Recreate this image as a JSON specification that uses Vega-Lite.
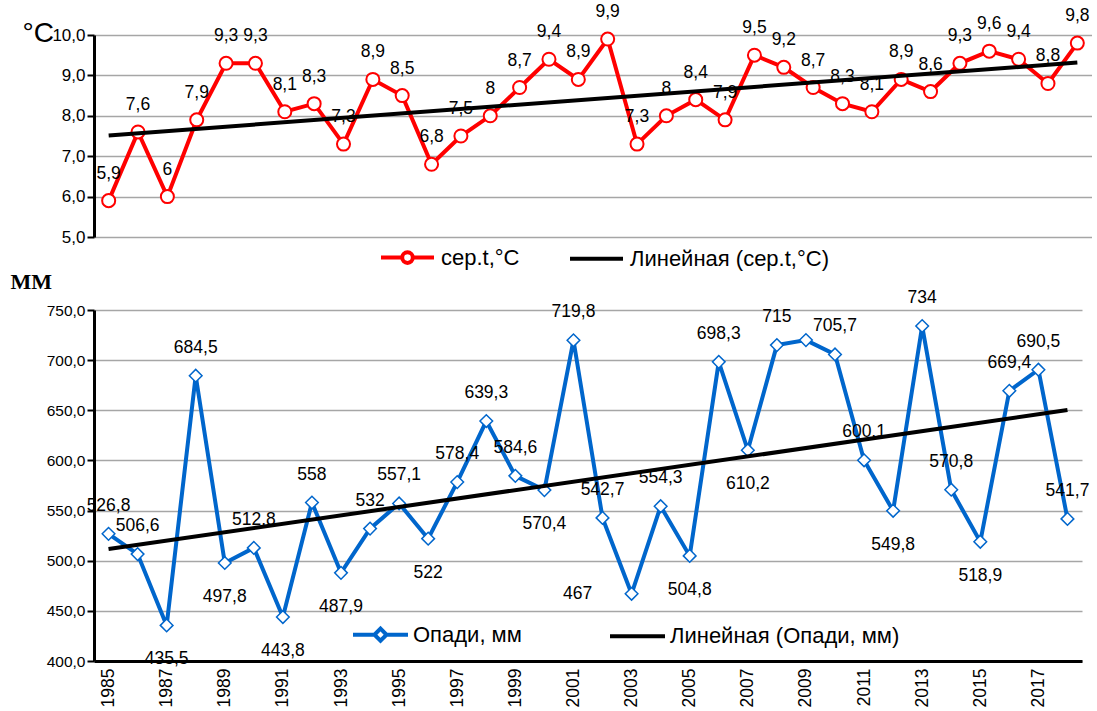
{
  "$schema": "https://vega.github.io/schema/vega-lite/v6.json",
  "padding": {"left": 10, "top": 3, "right": 0, "bottom": 0},
  "bounds": "flush",
  "spacing": 73,
  "background": "white",
  "config": {
    "locale": {"number": {"decimal": ",", "thousands": " ", "grouping": [3], "currency": ["", ""]}},
    "view": {"stroke": null},
    "font": "Liberation Sans"
  },
  "resolve": {"scale": {"color": "independent", "x": "independent", "y": "independent"}, "legend": {"color": "independent"}},
  "datasets": {
    "d": [
      {"year": 1985, "temp": 5.9, "precip": 526.8},
      {"year": 1986, "temp": 7.6, "precip": 506.6},
      {"year": 1987, "temp": 6.0, "precip": 435.5},
      {"year": 1988, "temp": 7.9, "precip": 684.5},
      {"year": 1989, "temp": 9.3, "precip": 497.8},
      {"year": 1990, "temp": 9.3, "precip": 512.8},
      {"year": 1991, "temp": 8.1, "precip": 443.8},
      {"year": 1992, "temp": 8.3, "precip": 558},
      {"year": 1993, "temp": 7.3, "precip": 487.9},
      {"year": 1994, "temp": 8.9, "precip": 532},
      {"year": 1995, "temp": 8.5, "precip": 557.1},
      {"year": 1996, "temp": 6.8, "precip": 522},
      {"year": 1997, "temp": 7.5, "precip": 578.4},
      {"year": 1998, "temp": 8.0, "precip": 639.3},
      {"year": 1999, "temp": 8.7, "precip": 584.6},
      {"year": 2000, "temp": 9.4, "precip": 570.4},
      {"year": 2001, "temp": 8.9, "precip": 719.8},
      {"year": 2002, "temp": 9.9, "precip": 542.7},
      {"year": 2003, "temp": 7.3, "precip": 467},
      {"year": 2004, "temp": 8.0, "precip": 554.3},
      {"year": 2005, "temp": 8.4, "precip": 504.8},
      {"year": 2006, "temp": 7.9, "precip": 698.3},
      {"year": 2007, "temp": 9.5, "precip": 610.2},
      {"year": 2008, "temp": 9.2, "precip": 715},
      {"year": 2009, "temp": 8.7, "precip": 720},
      {"year": 2010, "temp": 8.3, "precip": 705.7},
      {"year": 2011, "temp": 8.1, "precip": 600.1},
      {"year": 2012, "temp": 8.9, "precip": 549.8},
      {"year": 2013, "temp": 8.6, "precip": 734},
      {"year": 2014, "temp": 9.3, "precip": 570.8},
      {"year": 2015, "temp": 9.6, "precip": 518.9},
      {"year": 2016, "temp": 9.4, "precip": 669.4},
      {"year": 2017, "temp": 8.8, "precip": 690.5},
      {"year": 2018, "temp": 9.8, "precip": 541.7}
    ]
  },
  "vconcat": [
    {
      "width": 998,
      "height": 202,
      "data": {"name": "d"},
      "encoding": {
        "x": {"field": "year", "type": "quantitative", "scale": {"domain": [1984.5, 2018.5], "nice": false, "zero": false}, "axis": null},
        "y": {"field": "temp", "type": "quantitative", "scale": {"domain": [5, 10], "nice": false, "zero": false},
          "axis": {"values": [5, 6, 7, 8, 9, 10], "format": ".1f", "title": "°C", "titleAngle": 0, "titleX": -72, "titleY": 6, "titleAlign": "left", "titleBaseline": "alphabetic", "titleFont": "Liberation Sans", "titleFontSize": 28, "titleFontWeight": "normal", "titleColor": "#000",
            "labelFont": "Liberation Sans", "labelFontSize": 17, "labelColor": "#000", "labelPadding": 2,
            "domainColor": "#000", "domainWidth": 3, "tickColor": "#000", "tickWidth": 2, "tickSize": 7,
            "grid": true, "gridColor": "#A6A6A6", "gridWidth": 1.5}}
      },
      "layer": [
        {
          "mark": {"type": "line", "strokeWidth": 4},
          "encoding": {
            "color": {"datum": "сер.t,°С", "type": "nominal",
              "scale": {"domain": ["сер.t,°С", "Линейная (сер.t,°С)"], "range": ["#FF0000", "#000000"]},
              "legend": {"orient": "none", "legendX": 285, "legendY": 194, "direction": "horizontal", "title": null,
                "labelFont": "Liberation Sans", "labelFontSize": 22, "labelColor": "#000", "labelOffset": 5, "columnPadding": 42, "labelLimit": 0,
                "symbolSize": 2809, "symbolStrokeWidth": 4, "symbolType": "stroke",
                "encode": {"symbols": {"update": {"shape": {"signal": "datum.value === 'сер.t,°С' ? 'M-1,0L-0.2,0M0.2,0L1,0M-0.2,0A0.2,0.2 0 1,1 0.2,0A0.2,0.2 0 1,1 -0.2,0' : 'M-1,0L1,0'"}}}}}
            }
          }
        },
        {
          "mark": {"type": "point", "shape": "circle", "size": 170, "filled": true, "fill": "white", "stroke": "#FF0000", "strokeWidth": 2, "opacity": 1}
        },
        {
          "transform": [{"regression": "temp", "on": "year"}],
          "mark": {"type": "line", "strokeWidth": 4},
          "encoding": {"color": {"datum": "Линейная (сер.t,°С)", "type": "nominal"}}
        },
        {
          "mark": {"type": "text", "dy": -27, "font": "Liberation Sans", "fontSize": 17.5, "color": "#000"},
          "encoding": {"text": {"field": "temp", "type": "quantitative", "format": "~f"}}
        }
      ]
    },
    {
      "width": 988,
      "height": 351,
      "data": {"name": "d"},
      "encoding": {
        "x": {"field": "year", "type": "quantitative", "scale": {"domain": [1984.5, 2018.5], "nice": false, "zero": false},
          "axis": {"values": [1985, 1987, 1989, 1991, 1993, 1995, 1997, 1999, 2001, 2003, 2005, 2007, 2009, 2011, 2013, 2015, 2017], "format": "d", "labelAngle": -90, "labelFont": "Liberation Sans", "labelFontSize": 17.5, "labelColor": "#000", "labelPadding": 7,
            "grid": false, "ticks": false, "domainColor": "#000", "domainWidth": 3, "title": null}},
        "y": {"field": "precip", "type": "quantitative", "scale": {"domain": [400, 750], "nice": false, "zero": false},
          "axis": {"values": [400, 450, 500, 550, 600, 650, 700, 750], "format": ".1f", "title": "ММ", "titleAngle": 0, "titleX": -84, "titleY": -22, "titleAlign": "left", "titleBaseline": "alphabetic", "titleFont": "Liberation Serif", "titleFontSize": 22, "titleFontWeight": "bold", "titleColor": "#000",
            "labelFont": "Liberation Sans", "labelFontSize": 15.5, "labelColor": "#000", "labelPadding": 2,
            "domainColor": "#000", "domainWidth": 3, "tickColor": "#000", "tickWidth": 2, "tickSize": 7,
            "grid": true, "gridColor": "#A6A6A6", "gridWidth": 1.5}}
      },
      "layer": [
        {
          "mark": {"type": "line", "strokeWidth": 4},
          "encoding": {
            "color": {"datum": "Опади, мм", "type": "nominal",
              "scale": {"domain": ["Опади, мм", "Линейная (Опади, мм)"], "range": ["#0066CC", "#000000"]},
              "legend": {"orient": "none", "legendX": 257, "legendY": 295, "direction": "horizontal", "title": null,
                "labelFont": "Liberation Sans", "labelFontSize": 22, "labelColor": "#000", "labelOffset": 3, "columnPadding": 80, "labelLimit": 0,
                "symbolSize": 3025, "symbolStrokeWidth": 4, "symbolType": "stroke",
                "encode": {"symbols": {"update": {"shape": {"signal": "datum.value === 'Опади, мм' ? 'M-1,0L-0.22,0M0.22,0L1,0M-0.22,0L0,-0.22L0.22,0L0,0.22Z' : 'M-1,0L1,0'"}}}}}
            }
          }
        },
        {
          "mark": {"type": "point", "shape": "diamond", "size": 160, "filled": true, "fill": "white", "stroke": "#0066CC", "strokeWidth": 1.5, "opacity": 1}
        },
        {
          "transform": [{"regression": "precip", "on": "year"}],
          "mark": {"type": "line", "strokeWidth": 4},
          "encoding": {"color": {"datum": "Линейная (Опади, мм)", "type": "nominal"}}
        },
        {
          "transform": [{"filter": {"not": {"field": "year", "oneOf": [1987, 1989, 1991, 1993, 1996, 2000, 2003, 2005, 2007, 2009, 2012, 2015]}}}],
          "mark": {"type": "text", "dy": -28, "font": "Liberation Sans", "fontSize": 17.5, "color": "#000"},
          "encoding": {"text": {"field": "precip", "type": "quantitative", "format": "~f"}}
        },
        {
          "transform": [{"filter": {"field": "year", "oneOf": [1987, 1989, 1991, 1993, 1996, 2000, 2005, 2007, 2012, 2015]}}],
          "mark": {"type": "text", "dy": 34, "font": "Liberation Sans", "fontSize": 17.5, "color": "#000"},
          "encoding": {"text": {"field": "precip", "type": "quantitative", "format": "~f"}}
        },
        {
          "transform": [{"filter": {"field": "year", "oneOf": [2003]}}],
          "mark": {"type": "text", "dx": -54, "dy": 0, "font": "Liberation Sans", "fontSize": 17.5, "color": "#000"},
          "encoding": {"text": {"field": "precip", "type": "quantitative", "format": "~f"}}
        }
      ]
    }
  ]
}
